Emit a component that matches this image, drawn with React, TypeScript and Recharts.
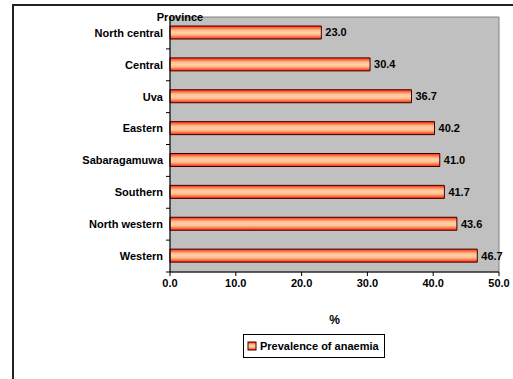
import { BarChart, Bar, XAxis, YAxis, ReferenceArea, Legend, LabelList } from "recharts";

const provinces = [
    "North central",
    "Central",
    "Uva",
    "Eastern",
    "Sabaragamuwa",
    "Southern",
    "North western",
    "Western",
];
const prevalence = [23.0, 30.4, 36.7, 40.2, 41.0, 41.7, 43.6, 46.7];
const xTicks = [0, 10, 20, 30, 40, 50];

const data = provinces.map((name, i) => ({ name, value: prevalence[i] }));

const FONT = "'Liberation Sans', Arial, sans-serif";

// category tick: label plus a small tick mark on the band boundary below it
const CategoryTick = (props: any) => {
    const { x, y, payload } = props;
    const half = 255 / provinces.length / 2;
    return (
        <g>
            <text x={x + 1} y={y} dy="0.35em" textAnchor="end" fontFamily={FONT} fontSize={11} fontWeight="bold" fill="#000">
                {payload.value}
            </text>
            <line x1={x + 4} x2={x + 8} y1={y + half} y2={y + half} stroke="#000" />
        </g>
    );
};

const LegendBox = () => (
    <div
        style={{
            width: 142,
            height: 24,
            border: "1px solid #000",
            background: "#fff",
            display: "flex",
            alignItems: "center",
            fontFamily: FONT,
            fontSize: 11,
            fontWeight: "bold",
            boxSizing: "border-box",
        }}
    >
        <svg width={13} height={10} style={{ marginLeft: 3 }}>
            <rect x={1} y={1} width={8} height={8} fill="url(#barGrad)" stroke="#400000" />
        </svg>
        <span>Prevalence of anaemia</span>
    </div>
);

export default function App() {
    return (
        <div style={{ position: "absolute", left: 0, top: 0, width: 513, height: 379, overflow: "hidden", background: "#fff" }}>
            <div
                style={{
                    position: "absolute",
                    left: 12,
                    top: 4,
                    width: 600,
                    height: 500,
                    border: "2px solid #222",
                    boxSizing: "border-box",
                }}
            />
            <BarChart
                width={513}
                height={379}
                data={data}
                layout="vertical"
                margin={{ top: 17, right: 14, bottom: 52, left: 0 }}
                style={{ position: "absolute", left: 0, top: 0 }}
            >
                <defs>
                    <linearGradient id="barGrad" x1="0" y1="0" x2="0" y2="1">
                        <stop offset="0%" stopColor="#FF2A00" />
                        <stop offset="15%" stopColor="#FF6A48" />
                        <stop offset="33%" stopColor="#FFBE8E" />
                        <stop offset="50%" stopColor="#FFD2A4" />
                        <stop offset="67%" stopColor="#FFBE8E" />
                        <stop offset="85%" stopColor="#FF6A48" />
                        <stop offset="100%" stopColor="#FF2A00" />
                    </linearGradient>
                </defs>
                <ReferenceArea x1={0} x2={50} fill="#C0C0C0" fillOpacity={1} stroke="#808080" strokeWidth={1} />
                <XAxis
                    type="number"
                    domain={[0, 50]}
                    ticks={xTicks}
                    tickFormatter={(v: number) => v.toFixed(1)}
                    axisLine={{ stroke: "#000" }}
                    tickLine={{ stroke: "#000" }}
                    tickSize={4}
                    tickMargin={3}
                    height={55}
                    tick={{ fontFamily: FONT, fontSize: 11, fontWeight: "bold", fill: "#000" }}
                    label={{ value: "%", position: "insideBottom", offset: 3, fontFamily: FONT, fontSize: 12, fontWeight: "bold", fill: "#000" }}
                />
                <YAxis
                    type="category"
                    dataKey="name"
                    width={170}
                    axisLine={{ stroke: "#000" }}
                    tickLine={false}
                    tick={<CategoryTick />}
                    interval={0}
                    label={{
                        content: () => (
                            <text x={180} y={21} textAnchor="middle" fontFamily={FONT} fontSize={11} fontWeight="bold" fill="#000">
                                Province
                            </text>
                        ),
                    }}
                />
                <Legend
                    layout="horizontal"
                    verticalAlign="middle"
                    align="center"
                    content={() => <LegendBox />}
                    wrapperStyle={{ top: 334, left: 243, width: 144, height: 26 }}
                />
                <Bar dataKey="value" name="Prevalence of anaemia" barSize={13} fill="url(#barGrad)" stroke="#400000" strokeWidth={1} isAnimationActive={false}>
                    <LabelList
                        dataKey="value"
                        position="right"
                        offset={4}
                        formatter={(v: any) => Number(v).toFixed(1)}
                        style={{ fontFamily: FONT, fontSize: 11, fontWeight: "bold", fill: "#000" }}
                    />
                </Bar>
            </BarChart>
        </div>
    );
}
